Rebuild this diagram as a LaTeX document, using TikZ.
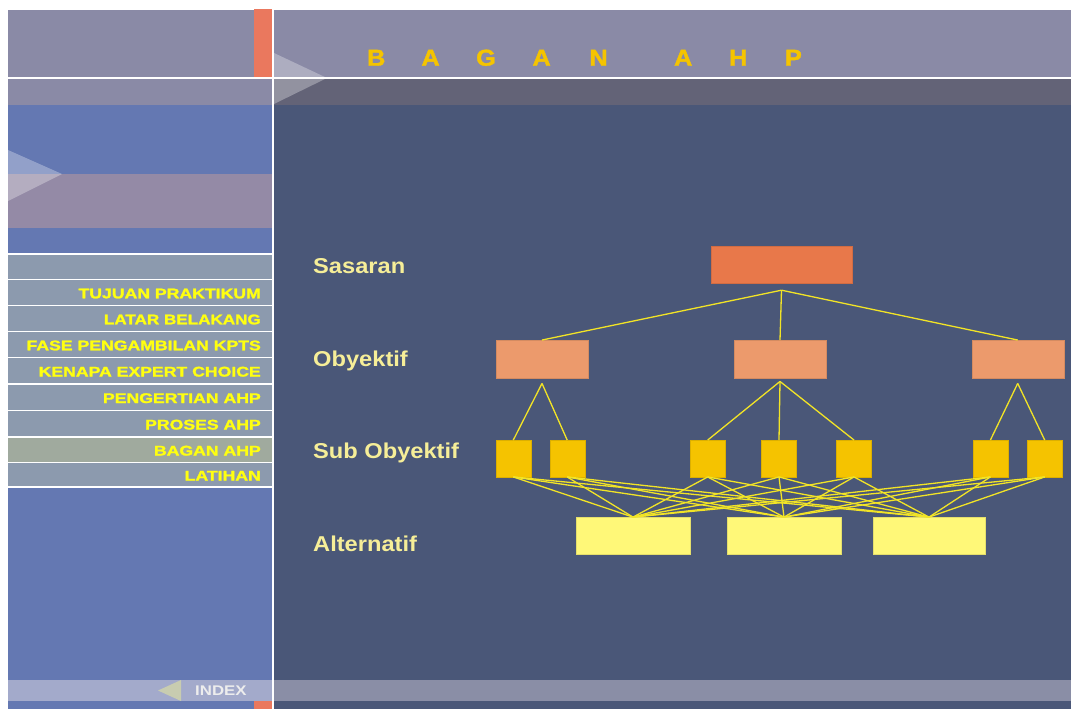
\documentclass[tikz,border=0pt]{standalone}
\usepackage{fontspec}
\setmainfont{Liberation Sans}
\newfontfamily\heavyfont[FakeBold=1.6]{Liberation Sans Bold}
\usepackage{graphicx}
\definecolor{band}{HTML}{8A8AA6}
\definecolor{banddark}{HTML}{636377}
\definecolor{orangebar}{HTML}{EA785E}
\definecolor{sideblue}{HTML}{6478B2}
\definecolor{sidepink}{HTML}{948AA6}
\definecolor{mainblue}{HTML}{4A5778}
\definecolor{menurow}{HTML}{8C9AAE}
\definecolor{menuhi}{HTML}{A0AA9E}
\definecolor{menutext}{HTML}{FFFF10}
\definecolor{indexleft}{HTML}{A3AACB}
\definecolor{indexright}{HTML}{8A8EA6}
\definecolor{indextri}{HTML}{C8CCB0}
\definecolor{titlegold}{HTML}{F5C400}
\definecolor{labelyellow}{HTML}{F6EE98}
\definecolor{goalfill}{HTML}{E8784A}
\definecolor{objfill}{HTML}{EC9A6C}
\definecolor{subfill}{HTML}{F5C300}
\definecolor{altfill}{HTML}{FFF878}
\definecolor{linkyellow}{HTML}{F2E426}
\tikzset{
  rule/.style={white, line width=1.2pt},
  titleletter/.style={anchor=base, text=titlegold, inner sep=0pt,
    font=\fontsize{23}{26}\heavyfont},
  menuitem/.style={anchor=base east, text=menutext, inner sep=0pt,
    font=\fontsize{14}{16}\heavyfont},
  levellabel/.style={anchor=base west, text=labelyellow, inner sep=0pt,
    font=\fontsize{21.5}{24}\selectfont\bfseries},
  goalbox/.style={fill=goalfill, draw=goalfill!90!black, line width=0.4pt,
    minimum width=141pt, minimum height=37pt, inner sep=0pt},
  objbox/.style={fill=objfill, draw=objfill!90!black, line width=0.4pt,
    minimum width=92pt, minimum height=37.5pt, inner sep=0pt},
  subbox/.style={fill=subfill, draw=subfill!90!black, line width=0.4pt,
    minimum width=35pt, minimum height=36.5pt, inner sep=0pt},
  altbox/.style={fill=altfill, draw=altfill!90!black, line width=0.4pt,
    minimum width=114pt, minimum height=37pt, inner sep=0pt},
  link/.style={linkyellow, line width=1.3pt},
}
\newcommand{\wide}[2]{\scalebox{#1}[1]{#2}}
\begin{document}
\begin{tikzpicture}[x=1pt,y=-1pt]
\useasboundingbox (0,0) rectangle (1071,709);
\fill[white] (0,0) rectangle (1071,709);

% header bands
\fill[band] (8,10) rectangle (1071,78);
\fill[band] (8,78) rectangle (273,105);
\fill[banddark] (273,78) rectangle (1071,105);
\fill[orangebar] (254,9) rectangle (272,78);

% side panel and main panel
\fill[sideblue] (8,105) rectangle (273,709);
\fill[sidepink] (8,174) rectangle (273,228);
\fill[mainblue] (273,105) rectangle (1071,709);

% menu rows
\fill[menurow] (8,254) rectangle (273,487);
\fill[menuhi] (8,437) rectangle (273,462.5);
\foreach \yy in {254,279.5,305.5,331.5,357.5,384,410.5,437,462.5,487}
  \draw[rule] (8,\yy) -- (272,\yy);

\node[menuitem] (m1) at (261,298.3) {\wide{1.26}{TUJUAN PRAKTIKUM}};
\node[menuitem] (m2) at (261,324.3) {\wide{1.22}{LATAR BELAKANG}};
\node[menuitem] (m3) at (261,350.3) {\wide{1.26}{FASE PENGAMBILAN KPTS}};
\node[menuitem] (m4) at (261,376.5) {\wide{1.26}{KENAPA EXPERT CHOICE}};
\node[menuitem] (m5) at (261,403) {\wide{1.26}{PENGERTIAN AHP}};
\node[menuitem] (m6) at (261,429.5) {\wide{1.26}{PROSES AHP}};
\node[menuitem] (m7) at (261,455.5) {\wide{1.26}{BAGAN AHP}};
\node[menuitem] (m8) at (261,480.5) {\wide{1.26}{LATIHAN}};

% index bar at the bottom
\fill[indexleft] (8,680) rectangle (273,701);
\fill[indexright] (273,680) rectangle (1071,701);
\fill[orangebar] (254,701) rectangle (272,709);
\fill[indextri] (158,690.5) -- (181,680) -- (181,701) -- cycle;
\node[anchor=base west, inner sep=0pt, text=white!93!black,
  font=\fontsize{14}{16}\selectfont\bfseries] (index) at (195,695.5) {\wide{1.2}{INDEX}};

% white rules
\draw[rule] (8,78) -- (1071,78);
\draw[rule] (273,10) -- (273,709);

% pointer triangles
\fill[white, opacity=0.3] (274,53) -- (327,78) -- (274,104) -- cycle;
\fill[white, opacity=0.3] (8,150) -- (62,174) -- (8,201) -- cycle;

% title
\foreach \xx/\ll [count=\i] in {376.3/B,430.6/A,486/G,541.6/A,598.6/N,683.2/A,738.3/H,793.4/P}
  \node[titleletter] (title\i) at (\xx,65.7) {\wide{1.1}{\ll}};

% level labels
\node[levellabel] (lsas) at (313,273.3) {\wide{1.1}{Sasaran}};
\node[levellabel] (lobj) at (313,366.7) {\wide{1.1}{Obyektif}};
\node[levellabel] (lsub) at (313,458.3) {\wide{1.1}{Sub Obyektif}};
\node[levellabel] (lalt) at (313,551.7) {\wide{1.1}{Alternatif}};

% hierarchy boxes
\node[goalbox] (sas) at (781.5,264.5) {};
\node[objbox] (ob1) at (542,359) {};
\node[objbox] (ob2) at (780,359) {};
\node[objbox] (ob3) at (1017.7,359) {};
\node[subbox] (s1) at (513.3,458.5) {};
\node[subbox] (s2) at (567.2,458.5) {};
\node[subbox] (s3) at (707.7,458.5) {};
\node[subbox] (s4) at (779,458.5) {};
\node[subbox] (s5) at (854,458.5) {};
\node[subbox] (s6) at (990.4,458.5) {};
\node[subbox] (s7) at (1044.7,458.5) {};
\node[altbox] (a1) at (633,535.8) {};
\node[altbox] (a2) at (784,535.8) {};
\node[altbox, minimum width=112pt] (a3) at (929,535.8) {};

% junction points below parent boxes
\coordinate (jsas) at ([yshift=-7pt]sas.south);
\coordinate (job1) at ([yshift=-5.5pt]ob1.south);
\coordinate (job2) at ([yshift=-3.5pt]ob2.south);
\coordinate (job3) at ([yshift=-5.5pt]ob3.south);

% connectors
\foreach \c in {ob1,ob2,ob3}
  \draw[link] (jsas) -- (\c.north);
\draw[link] (job1) -- (s1.north);
\draw[link] (job1) -- (s2.north);
\draw[link] (job2) -- (s3.north);
\draw[link] (job2) -- (s4.north);
\draw[link] (job2) -- (s5.north);
\draw[link] (job3) -- (s6.north);
\draw[link] (job3) -- (s7.north);
\foreach \s in {s1,s2,s3,s4,s5,s6,s7}
  \foreach \a in {a1,a2,a3}
    \draw[link] (\s.south) -- (\a.north);
\end{tikzpicture}
\end{document}
